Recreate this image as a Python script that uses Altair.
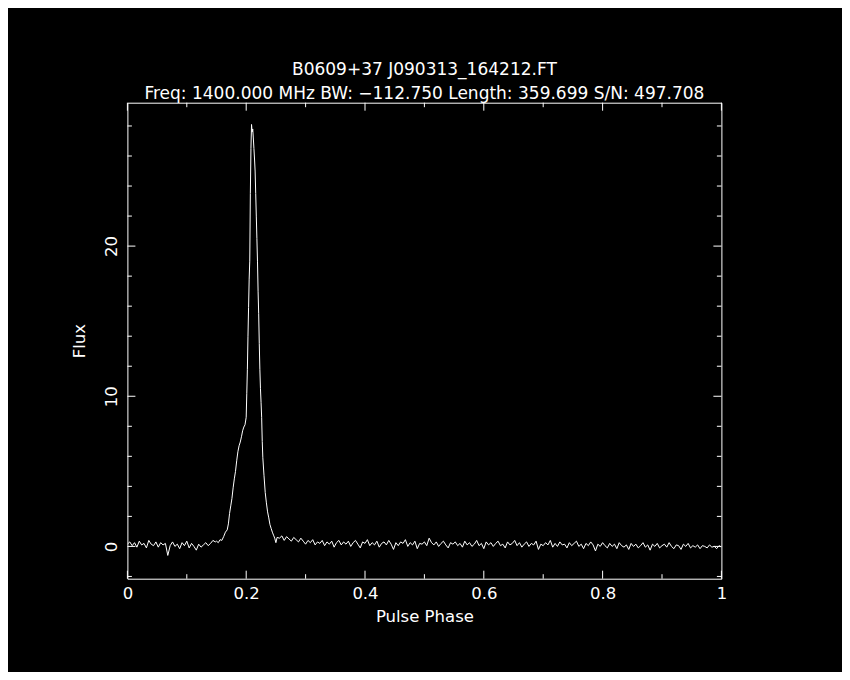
import altair as alt
import pandas as pd

# ---------------- text ----------------
title_lines = [
    "B0609+37 J090313_164212.FT",
    "Freq: 1400.000 MHz BW: \u2212112.750 Length: 359.699 S/N: 497.708",
]
x_title = "Pulse Phase"
y_title = "Flux"

# ---------------- data ----------------
# off-pulse baseline, phase 0.000 .. 0.148 in steps of 0.004
base_a_start = 0.0
base_a_step = 0.004
base_a_flux = [0.15, 0.30, 0.05, 0.25, -0.05, 0.35, 0.10, 0.20, -0.10, 0.40,
               0.15, 0.05, 0.30, -0.05, 0.25, 0.10, 0.20, -0.60, 0.05, 0.30,
               0.00, 0.15, -0.15, 0.25, 0.05, 0.35, -0.10, 0.20, 0.00, -0.25,
               0.15, -0.05, 0.10, 0.25, 0.05, 0.20, 0.40, 0.30]

# on-pulse region
pulse_phase = [0.150, 0.153, 0.156, 0.159, 0.162, 0.165, 0.168,
               0.170, 0.172, 0.174, 0.176, 0.178, 0.180, 0.182, 0.184,
               0.186, 0.188, 0.190, 0.192, 0.194, 0.196, 0.198, 0.200,
               0.201, 0.202, 0.203, 0.204, 0.205, 0.206, 0.207, 0.208,
               0.209, 0.210, 0.211, 0.212, 0.213, 0.214, 0.215, 0.216,
               0.217, 0.218, 0.219, 0.220, 0.221, 0.222, 0.223, 0.224,
               0.225, 0.226, 0.227, 0.228,
               0.230, 0.232, 0.234, 0.236, 0.238, 0.240, 0.242, 0.244,
               0.246, 0.248, 0.250, 0.252]
pulse_flux = [0.35, 0.25, 0.45, 0.40, 0.65, 0.95, 1.10,
              1.50, 2.20, 2.70, 3.20, 3.90, 4.50, 5.00, 5.70,
              6.30, 6.70, 6.95, 7.30, 7.70, 7.95, 8.10, 8.60,
              10.2, 11.8, 14.0, 15.9, 17.8, 19.0, 23.5, 26.5,
              28.1, 27.6, 27.8, 27.2, 26.5, 25.8, 25.0, 23.5,
              22.0, 20.5, 19.0, 17.0, 15.5, 13.5, 11.8, 10.5,
              9.6, 8.6, 7.0, 5.9,
              4.7, 3.6, 2.9, 2.3, 1.9, 1.45, 1.20, 0.95,
              0.75, 0.55, 0.25, 0.60]

# off-pulse baseline, phase 0.256 .. 1.000 in steps of 0.004
base_b_start = 0.256
base_b_step = 0.004
base_b_flux = [0.55, 0.70, 0.40, 0.65, 0.50, 0.35, 0.60, 0.45, 0.30, 0.55,
               0.35, 0.15, 0.40, 0.25, 0.45, 0.10, 0.30, 0.20, 0.40, 0.05,
               0.30, 0.15, 0.35, -0.05, 0.25, 0.40, 0.10, 0.30, 0.15, 0.35,
               0.00, 0.25, 0.40, 0.15, -0.10, 0.30, 0.20, 0.45, 0.05, 0.25,
               0.10, 0.35, -0.05, 0.20, 0.30, 0.10, 0.40, 0.15, -0.20, 0.25,
               0.05, 0.30, 0.20, 0.45, 0.00, 0.25, 0.10, 0.35, -0.15, 0.20,
               0.15, 0.30, 0.05, 0.55, 0.25, 0.10, 0.30, 0.00, 0.20, 0.35,
               0.10, -0.10, 0.25, 0.15, 0.30, 0.05, 0.20, -0.05, 0.35, 0.10,
               0.25, 0.00, 0.15, 0.40, 0.05, 0.20, -0.15, 0.30, 0.10, 0.25,
               0.00, 0.20, 0.35, 0.05, 0.15, -0.10, 0.30, 0.10, 0.20, 0.40,
               0.05, 0.25, -0.05, 0.15, 0.30, 0.00, 0.20, 0.10, 0.35, -0.20,
               0.15, 0.05, 0.25, 0.10, 0.40, -0.05, 0.20, 0.00, 0.30, 0.10,
               0.15, -0.10, 0.25, 0.05, 0.20, 0.35, 0.00, 0.15, -0.15, 0.20,
               0.05, 0.30, 0.10, -0.30, 0.15, 0.00, 0.25, 0.05, -0.10, 0.20,
               0.00, 0.15, -0.15, 0.25, 0.05, -0.05, 0.10, -0.20, 0.20, 0.00,
               0.15, -0.10, 0.05, 0.25, -0.05, 0.10, -0.25, 0.15, 0.00, 0.20,
               -0.10, 0.05, 0.15, -0.05, 0.25, 0.00, -0.15, 0.10, 0.05, -0.20,
               0.15, 0.00, 0.20, -0.10, 0.05, -0.05, 0.10, -0.15, 0.05, 0.00,
               -0.10, 0.10, -0.05, 0.00, -0.15, 0.05, -0.05]

# axis ticks / labels
x_domain = [0.0, 1.0]
y_domain = [-2.15, 29.55]
x_major = [0.0, 0.2, 0.4, 0.6, 0.8, 1.0]
x_minor = [0.1, 0.3, 0.5, 0.7, 0.9]
y_major = [0, 10, 20]
y_minor = [-2, 2, 4, 6, 8, 12, 14, 16, 18, 22, 24, 26, 28]

# ---------------- build table ----------------
phase = ([round(base_a_start + i * base_a_step, 4) for i in range(len(base_a_flux))]
         + pulse_phase
         + [round(base_b_start + i * base_b_step, 4) for i in range(len(base_b_flux))])
flux = base_a_flux + pulse_flux + base_b_flux
profile = pd.DataFrame({"phase": phase, "flux": flux})

# ---------------- layout ----------------
W, H = 594, 476
PAD_L, PAD_T = 119.4, 94.7
TOTAL_W, TOTAL_H = 834, 664
FONT = "DejaVu Sans"
FS = 16.5
FS_TITLE = 17
MAJ, MIN = 8, 4.5

xs = alt.Scale(domain=x_domain, nice=False, zero=False)
ys = alt.Scale(domain=y_domain, nice=False, zero=False)

xaxis = alt.Axis(values=x_major, format="~g", title=x_title,
                 labelFlush=False, labelPadding=7, labelBaseline="top",
                 titleY=43, titleBaseline="alphabetic")
yaxis = alt.Axis(values=y_major, format="d", title=y_title,
                 labelAngle=270, labelAlign="center",
                 labelBaseline="alphabetic", labelPadding=11,
                 titleAngle=270, titleAlign="center",
                 titleBaseline="alphabetic", titleX=-43, titleY=H / 2)

line = alt.Chart(profile).mark_line(color="white", strokeWidth=1, clip=True).encode(
    x=alt.X("phase:Q", scale=xs, axis=xaxis),
    y=alt.Y("flux:Q", scale=ys, axis=yaxis),
)


def xticks(vals, length, top):
    d = pd.DataFrame({"phase": vals})
    y0 = 0 if top else H
    y1 = length if top else H - length
    return alt.Chart(d).mark_rule(color="white", strokeWidth=1).encode(
        x=alt.X("phase:Q", scale=xs, axis=xaxis),
        y=alt.value(y0), y2=alt.value(y1))


def yticks(vals, length, right):
    d = pd.DataFrame({"flux": vals})
    x0 = W if right else 0
    x1 = W - length if right else length
    return alt.Chart(d).mark_rule(color="white", strokeWidth=1).encode(
        y=alt.Y("flux:Q", scale=ys, axis=yaxis),
        x=alt.value(x0), x2=alt.value(x1))


def title_text(txt, ypix):
    return alt.Chart(pd.DataFrame({"t": [txt]})).mark_text(
        color="white", font=FONT, fontSize=FS_TITLE, align="center",
        baseline="alphabetic", clip=False,
    ).encode(text="t:N", x=alt.value(W / 2), y=alt.value(ypix))


layers = [line]
for side in (False, True):
    layers.append(xticks(x_major, MAJ, side))
    layers.append(xticks(x_minor, MIN, side))
    layers.append(yticks(y_major, MAJ, side))
    layers.append(yticks(y_minor, MIN, side))
layers.append(title_text(title_lines[0], -27.7))
layers.append(title_text(title_lines[1], -3.4))

chart = alt.layer(*layers).properties(
    width=W, height=H,
    autosize=alt.AutoSizeParams(type="none"),
    padding={"left": PAD_L, "top": PAD_T,
             "right": TOTAL_W - PAD_L - W, "bottom": TOTAL_H - PAD_T - H},
).configure(background="black").configure_view(
    stroke="white", strokeWidth=1
).configure_axis(
    grid=False, domain=False, ticks=False, tickSize=0,
    labelColor="white", titleColor="white",
    labelFont=FONT, titleFont=FONT,
    labelFontSize=FS, titleFontSize=FS, titleFontWeight="normal",
)

chart.save("out.html", embed_options={"renderer": "svg", "actions": False})
